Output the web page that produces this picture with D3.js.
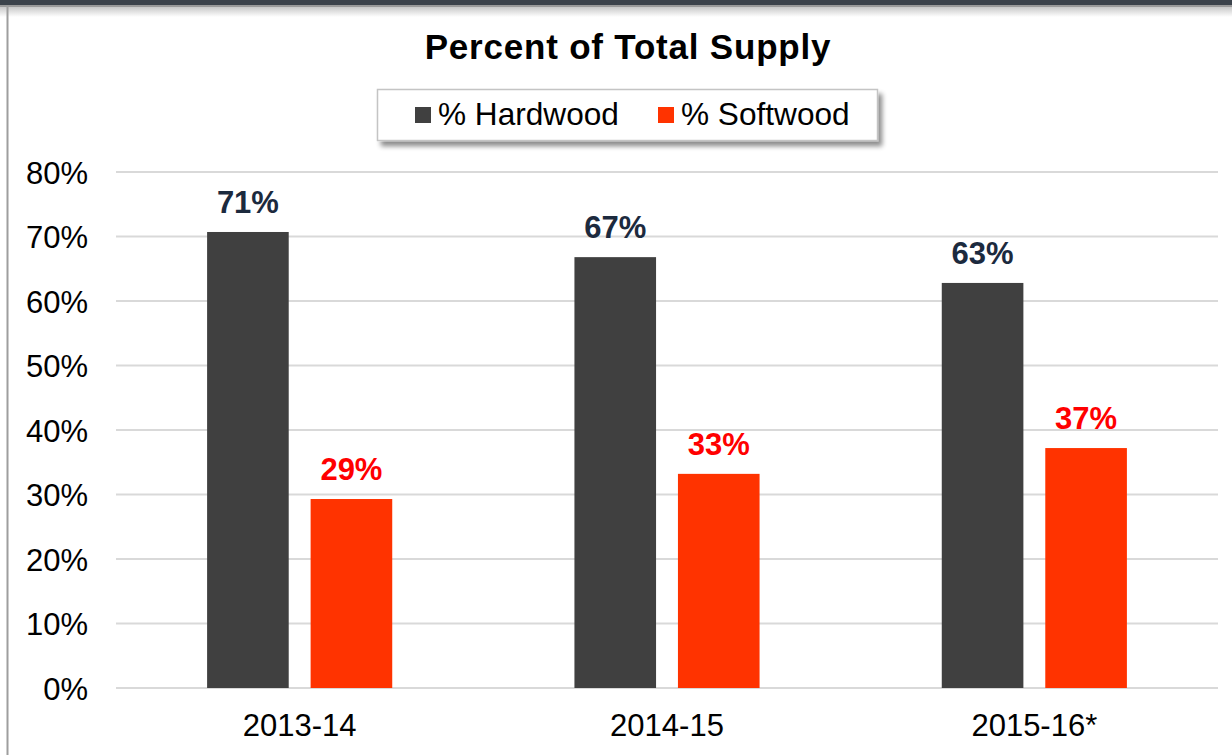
<!DOCTYPE html>
<html>
<head>
<meta charset="utf-8">
<script src="https://cdn.jsdelivr.net/npm/d3@7"></script>
<style>
  html, body { margin: 0; padding: 0; background: #fff; }
  svg { display: block; font-family: "Liberation Sans", Arial, sans-serif; }
</style>
</head>
<body>
<svg id="chart" width="1232" height="755"></svg>
<script>
// chart values
const categories = ["2013-14", "2014-15", "2015-16*"];
const seriesNames = ["% Hardwood", "% Softwood"];
const hardwood = [70.7, 66.8, 62.8];
const softwood = [29.3, 33.2, 37.2];
const hardwoodLabels = ["71%", "67%", "63%"];
const softwoodLabels = ["29%", "33%", "37%"];
const yTicks = [0, 10, 20, 30, 40, 50, 60, 70, 80];

const colors = {"% Hardwood": "#404040", "% Softwood": "#ff3300"};
const labelColors = {"% Hardwood": "#1c2a3e", "% Softwood": "#ff0000"};

const svg = d3.select("#chart");
const W = 1232, H = 755;

const defs = svg.append("defs");
const grad = defs.append("linearGradient").attr("id", "topShade")
	.attr("x1", 0).attr("y1", 0).attr("x2", 0).attr("y2", 1);
grad.append("stop").attr("offset", "0%").attr("stop-color", "#c8c8c8");
grad.append("stop").attr("offset", "100%").attr("stop-color", "#ffffff");

const shadow = defs.append("filter").attr("id", "legendShadow")
	.attr("x", "-5%").attr("y", "-30%").attr("width", "115%").attr("height", "190%");
shadow.append("feGaussianBlur").attr("in", "SourceAlpha").attr("stdDeviation", 2.5);
shadow.append("feOffset").attr("dx", 4).attr("dy", 5).attr("result", "off");
shadow.append("feComponentTransfer").append("feFuncA").attr("type", "linear").attr("slope", 0.45);
const merge = shadow.append("feMerge");
merge.append("feMergeNode");
merge.append("feMergeNode").attr("in", "SourceGraphic");

// frame bits: dark band on top, thin border on the left
svg.append("rect").attr("x", 0).attr("y", 0).attr("width", W).attr("height", 5).attr("fill", "#3c434b");
svg.append("rect").attr("x", 0).attr("y", 5).attr("width", W).attr("height", 2).attr("fill", "#9a9a9a");
svg.append("rect").attr("x", 0).attr("y", 7).attr("width", W).attr("height", 10).attr("fill", "url(#topShade)");
svg.append("line").attr("x1", 7.5).attr("x2", 7.5).attr("y1", 6).attr("y2", H)
	.attr("stroke", "#9e9e9e").attr("stroke-width", 2);

// scales
const x0 = d3.scaleBand().domain(categories).range([116, 1218]);
const bw = x0.bandwidth();
const x1 = d3.scaleBand().domain(seriesNames)
	.range([bw * 0.248, bw * 0.752]).paddingInner(0.2115);
const y = d3.scaleLinear().domain([0, 80]).range([688, 172]);

// gridlines
svg.append("g").selectAll("line").data(yTicks).join("line")
	.attr("x1", 116).attr("x2", 1218)
	.attr("y1", d => y(d)).attr("y2", d => y(d))
	.attr("stroke", "#d9d9d9").attr("stroke-width", 2);

// y axis labels
const yAxis = d3.axisLeft(y).tickValues(yTicks).tickFormat(d => d + "%").tickSize(0).tickPadding(0);
const gy = svg.append("g").attr("transform", "translate(88,0)").call(yAxis);
gy.select(".domain").remove();
gy.selectAll("text").attr("font-size", 31).attr("fill", "#000")
	.attr("font-family", "Liberation Sans, Arial, sans-serif").attr("dy", "0.36em");

// x axis labels
const xAxis = d3.axisBottom(x0).tickSize(0).tickPadding(0);
const gx = svg.append("g").attr("transform", "translate(0,736)").call(xAxis);
gx.select(".domain").remove();
gx.selectAll("text").attr("font-size", 31).attr("fill", "#000")
	.attr("font-family", "Liberation Sans, Arial, sans-serif").attr("dy", 0);

// bars
const rows = categories.map((c, i) => ({
	cat: c,
	vals: [
		{name: seriesNames[0], v: hardwood[i], label: hardwoodLabels[i]},
		{name: seriesNames[1], v: softwood[i], label: softwoodLabels[i]}
	]
}));

const groups = svg.append("g").selectAll("g").data(rows).join("g")
	.attr("transform", d => "translate(" + x0(d.cat) + ",0)");

groups.selectAll("rect").data(d => d.vals).join("rect")
	.attr("x", d => x1(d.name))
	.attr("width", x1.bandwidth())
	.attr("y", d => y(d.v))
	.attr("height", d => y(0) - y(d.v))
	.attr("fill", d => colors[d.name]);

groups.selectAll("text").data(d => d.vals).join("text")
	.attr("x", d => x1(d.name) + x1.bandwidth() / 2)
	.attr("y", d => y(d.v) - 19)
	.attr("text-anchor", "middle")
	.attr("font-size", 31).attr("font-weight", "bold")
	.attr("fill", d => labelColors[d.name])
	.text(d => d.label);

// title
svg.append("text").attr("x", 628).attr("y", 59).attr("text-anchor", "middle")
	.attr("font-size", 35).attr("font-weight", "bold").attr("letter-spacing", 0.8)
	.attr("fill", "#000").text("Percent of Total Supply");

// legend
const legend = svg.append("g");
legend.append("rect").attr("x", 377.5).attr("y", 89.5).attr("width", 500).attr("height", 51)
	.attr("fill", "#fff").attr("stroke", "#c4c4c4").attr("stroke-width", 1.5)
	.attr("filter", "url(#legendShadow)");
const legendX = [415, 658];
const items = legend.selectAll("g").data(seriesNames).join("g")
	.attr("transform", (d, i) => "translate(" + legendX[i] + ",0)");
items.append("rect").attr("x", 0).attr("y", 107).attr("width", 16).attr("height", 16)
	.attr("fill", d => colors[d]);
items.append("text").attr("x", 23).attr("y", 125).attr("font-size", 31.6).attr("fill", "#000")
	.text(d => d);
</script>
</body>
</html>
